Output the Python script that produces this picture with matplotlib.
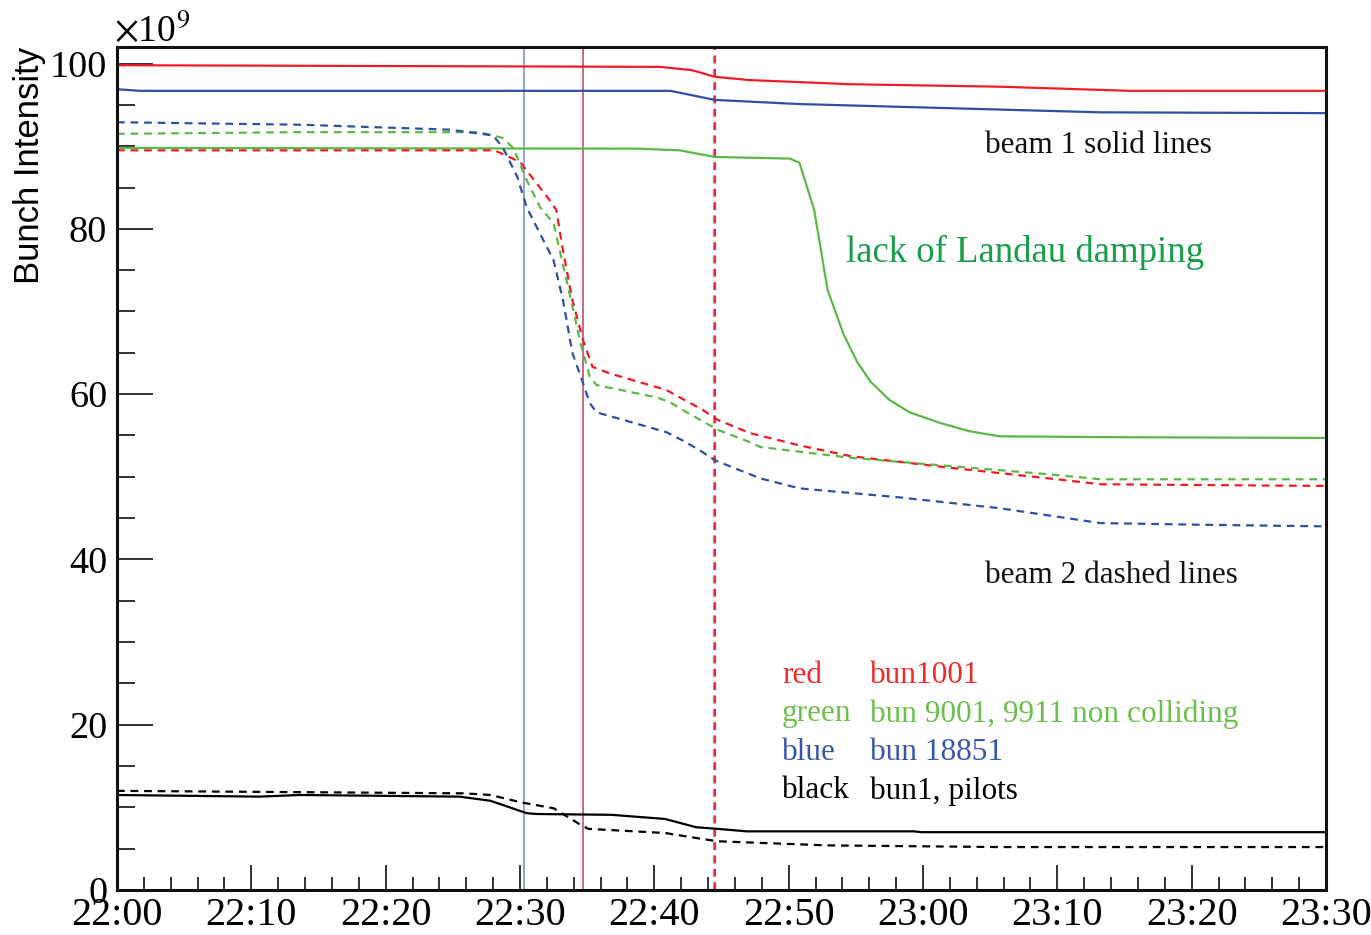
import numpy as np
import matplotlib
matplotlib.use("Agg")
import matplotlib.pyplot as plt

plt.rcParams['font.family'] = ['Liberation Serif', 'DejaVu Serif']
plt.rcParams['mathtext.fontset'] = 'stix'

# time in minutes after 22:00, intensity in units of 1e9
t_b1_red = [0, 40.4, 42.8, 44.5, 47.1, 54.6, 65.7, 75.4, 90]
v_b1_red = [99.8, 99.6, 99.2, 98.4, 98.0, 97.5, 97.2, 96.7, 96.7]

t_b1_blue = [0, 1.7, 41.2, 44.5, 50.8, 62.0, 73.2, 90]
v_b1_blue = [96.9, 96.7, 96.7, 95.6, 95.1, 94.6, 94.1, 94.0]

t_b1_green = [0, 38.9, 41.9, 44.5, 50.1, 50.8, 51.9, 52.9, 54.1, 55.1, 56.1,
              57.5, 59.0, 61.3, 63.5, 65.7, 73.2, 90]
v_b1_green = [89.8, 89.7, 89.5, 88.7, 88.5, 88.0, 82.3, 72.6, 67.2, 63.9, 61.5,
              59.3, 57.8, 56.5, 55.5, 54.9, 54.8, 54.7]

t_b1_black = [0, 10.6, 13.6, 25.5, 27.8, 30.5, 31.2, 36.8, 40.8, 43.1, 44.7,
              46.9, 59.3, 59.9, 90]
v_b1_black = [11.5, 11.3, 11.5, 11.3, 10.8, 9.3, 9.2, 9.1, 8.6, 7.6, 7.4,
              7.1, 7.1, 7.0, 7.0]

t_b2_red = [0, 28.1, 30.0, 32.2, 32.7, 33.2, 33.9, 34.7, 35.4, 36.7, 40.9,
            41.9, 43.6, 44.7, 47.1, 50.8, 54.6, 62.0, 69.4, 73.2, 80.6, 90]
v_b2_red = [89.5, 89.5, 88.1, 83.5, 82.3, 77.4, 71.4, 66.5, 63.3, 62.5, 60.5,
            59.6, 58.1, 56.9, 55.3, 53.8, 52.5, 51.1, 49.8, 49.1, 49.0, 48.9]

t_b2_green = [0, 13.6, 27.0, 28.7, 29.5, 30.5, 31.5, 32.5, 33.0, 33.8, 34.5,
              35.2, 35.7, 40.2, 41.2, 42.1, 44.7, 47.1, 47.9, 54.6, 62.0,
              69.4, 73.2, 90]
v_b2_green = [91.5, 91.7, 91.7, 91.0, 89.8, 85.9, 82.6, 80.7, 77.1, 71.4, 66.2,
              62.1, 61.1, 59.6, 59.0, 58.1, 55.7, 54.2, 53.6, 52.3, 51.3,
              50.3, 49.7, 49.7]

t_b2_blue = [0, 13.6, 21.1, 24.8, 28.0, 28.7, 29.8, 30.5, 32.0, 32.5, 33.2,
             33.9, 34.7, 35.2, 35.7, 40.9, 42.1, 43.4, 44.5, 47.9, 50.8,
             58.3, 65.7, 73.2, 80.6, 90]
v_b2_blue = [92.9, 92.6, 92.2, 92.0, 91.3, 89.9, 86.3, 82.6, 77.8, 76.2, 71.4,
             65.0, 61.3, 58.9, 57.8, 55.4, 54.4, 53.2, 52.0, 49.8, 48.6,
             47.5, 46.2, 44.4, 44.2, 44.0]

t_b2_black = [0, 25.8, 27.8, 30.1, 32.5, 34.5, 35.1, 40.8, 43.1, 44.7, 52.9,
              65.7, 90]
v_b2_black = [12.0, 11.7, 11.5, 10.6, 9.9, 7.9, 7.4, 6.9, 6.3, 5.9, 5.4,
              5.2, 5.2]

# event markers (minutes after 22:00)
t_mark_blue = 30.3
t_mark_red = 34.7
t_mark_dash = 44.5

xtick_pos = np.arange(0, 91, 10)
xtick_lab = ["22:00", "22:10", "22:20", "22:30", "22:40", "22:50",
             "23:00", "23:10", "23:20", "23:30"]

legend_names = ["red", "green", "blue", "black"]
legend_desc = ["bun1001", "bun 9001, 9911 non colliding", "bun 18851", "bun1, pilots"]
legend_cols = ["#ee2a2e", "#6cbf4c", "#3a56a8", "black"]

RED = "#ee1d25"
BLUE = "#2f4fa3"
GREEN = "#5cb947"

fig = plt.figure(figsize=(13.71, 9.35), dpi=100)
ax = fig.add_axes([0.0853, 0.0481, 0.8819, 0.9016])

lw = 1.6
dash = (3.5, 2.6)

# vertical markers first so curves sit on top
ax.axvline(t_mark_blue, color="#8a9bd0", lw=1.3)
ax.axvline(t_mark_red, color="#b8406a", lw=1.1)
ax.axvline(t_mark_dash - 0.05, color="#8ea0d2", lw=1.6, dashes=(3.5, 2.5))
ax.axvline(t_mark_dash + 0.05, color="#e8303a", lw=1.6, dashes=(3.5, 2.5))

ax.plot(t_b1_red, v_b1_red, color=RED, lw=lw)
ax.plot(t_b1_blue, v_b1_blue, color=BLUE, lw=lw)
ax.plot(t_b1_green, v_b1_green, color=GREEN, lw=lw)
ax.plot(t_b1_black, v_b1_black, color="black", lw=lw)

ax.plot(t_b2_red, v_b2_red, color=RED, lw=lw, dashes=dash)
ax.plot(t_b2_green, v_b2_green, color=GREEN, lw=lw, dashes=dash)
ax.plot(t_b2_blue, v_b2_blue, color=BLUE, lw=lw, dashes=dash)
ax.plot(t_b2_black, v_b2_black, color="black", lw=lw, dashes=dash)

ax.set_xlim(0, 90)
ax.set_ylim(0, 102)

ax.set_xticks(xtick_pos)
ax.set_xticklabels(xtick_lab)
ax.set_xticks(np.arange(0, 91, 2), minor=True)
ax.set_yticks(np.arange(0, 101, 20))
ax.set_yticks(np.arange(0, 101, 5), minor=True)

ax.tick_params(axis="both", which="both", direction="in", top=False, right=False,
               width=1.3, color="#222222")
ax.tick_params(axis="x", which="major", length=18, pad=5, labelsize=29)
ax.tick_params(axis="x", which="minor", length=9.5)
ax.tick_params(axis="y", which="major", length=26, pad=7, labelsize=27.5)
ax.tick_params(axis="y", which="minor", length=13)

for sp in ax.spines.values():
    sp.set_linewidth(2.2)
    sp.set_color("#111111")

fig.text(30 / 1371, 1 - 47 / 935, "Bunch Intensity", rotation=90, ha="center",
         va="top", fontsize=25, family=["Liberation Sans", "DejaVu Sans"])
fig.text(114 / 1371, 1 - 42 / 935, r"$\times$10$^{9}$", ha="left", va="baseline",
         fontsize=27)

ax.text(64.6, 90.1, "beam 1 solid lines", fontsize=22.5, va="center", color="#111111")
ax.text(64.6, 38.1, "beam 2 dashed lines", fontsize=22.5, va="center", color="#111111")
ax.text(54.3, 77.1, "lack of Landau damping", fontsize=26.5, va="center", color="#1a9e4c")

leg_y = [26.0, 21.3, 16.7, 12.0]
for name, desc, col, yy in zip(legend_names, legend_desc, legend_cols, leg_y):
    ax.text(49.5, yy, name, fontsize=22.5, va="center", color=col)
    ax.text(56.05, yy, desc, fontsize=22.5, va="center", color=col)

fig.savefig("out.png", dpi=100)
